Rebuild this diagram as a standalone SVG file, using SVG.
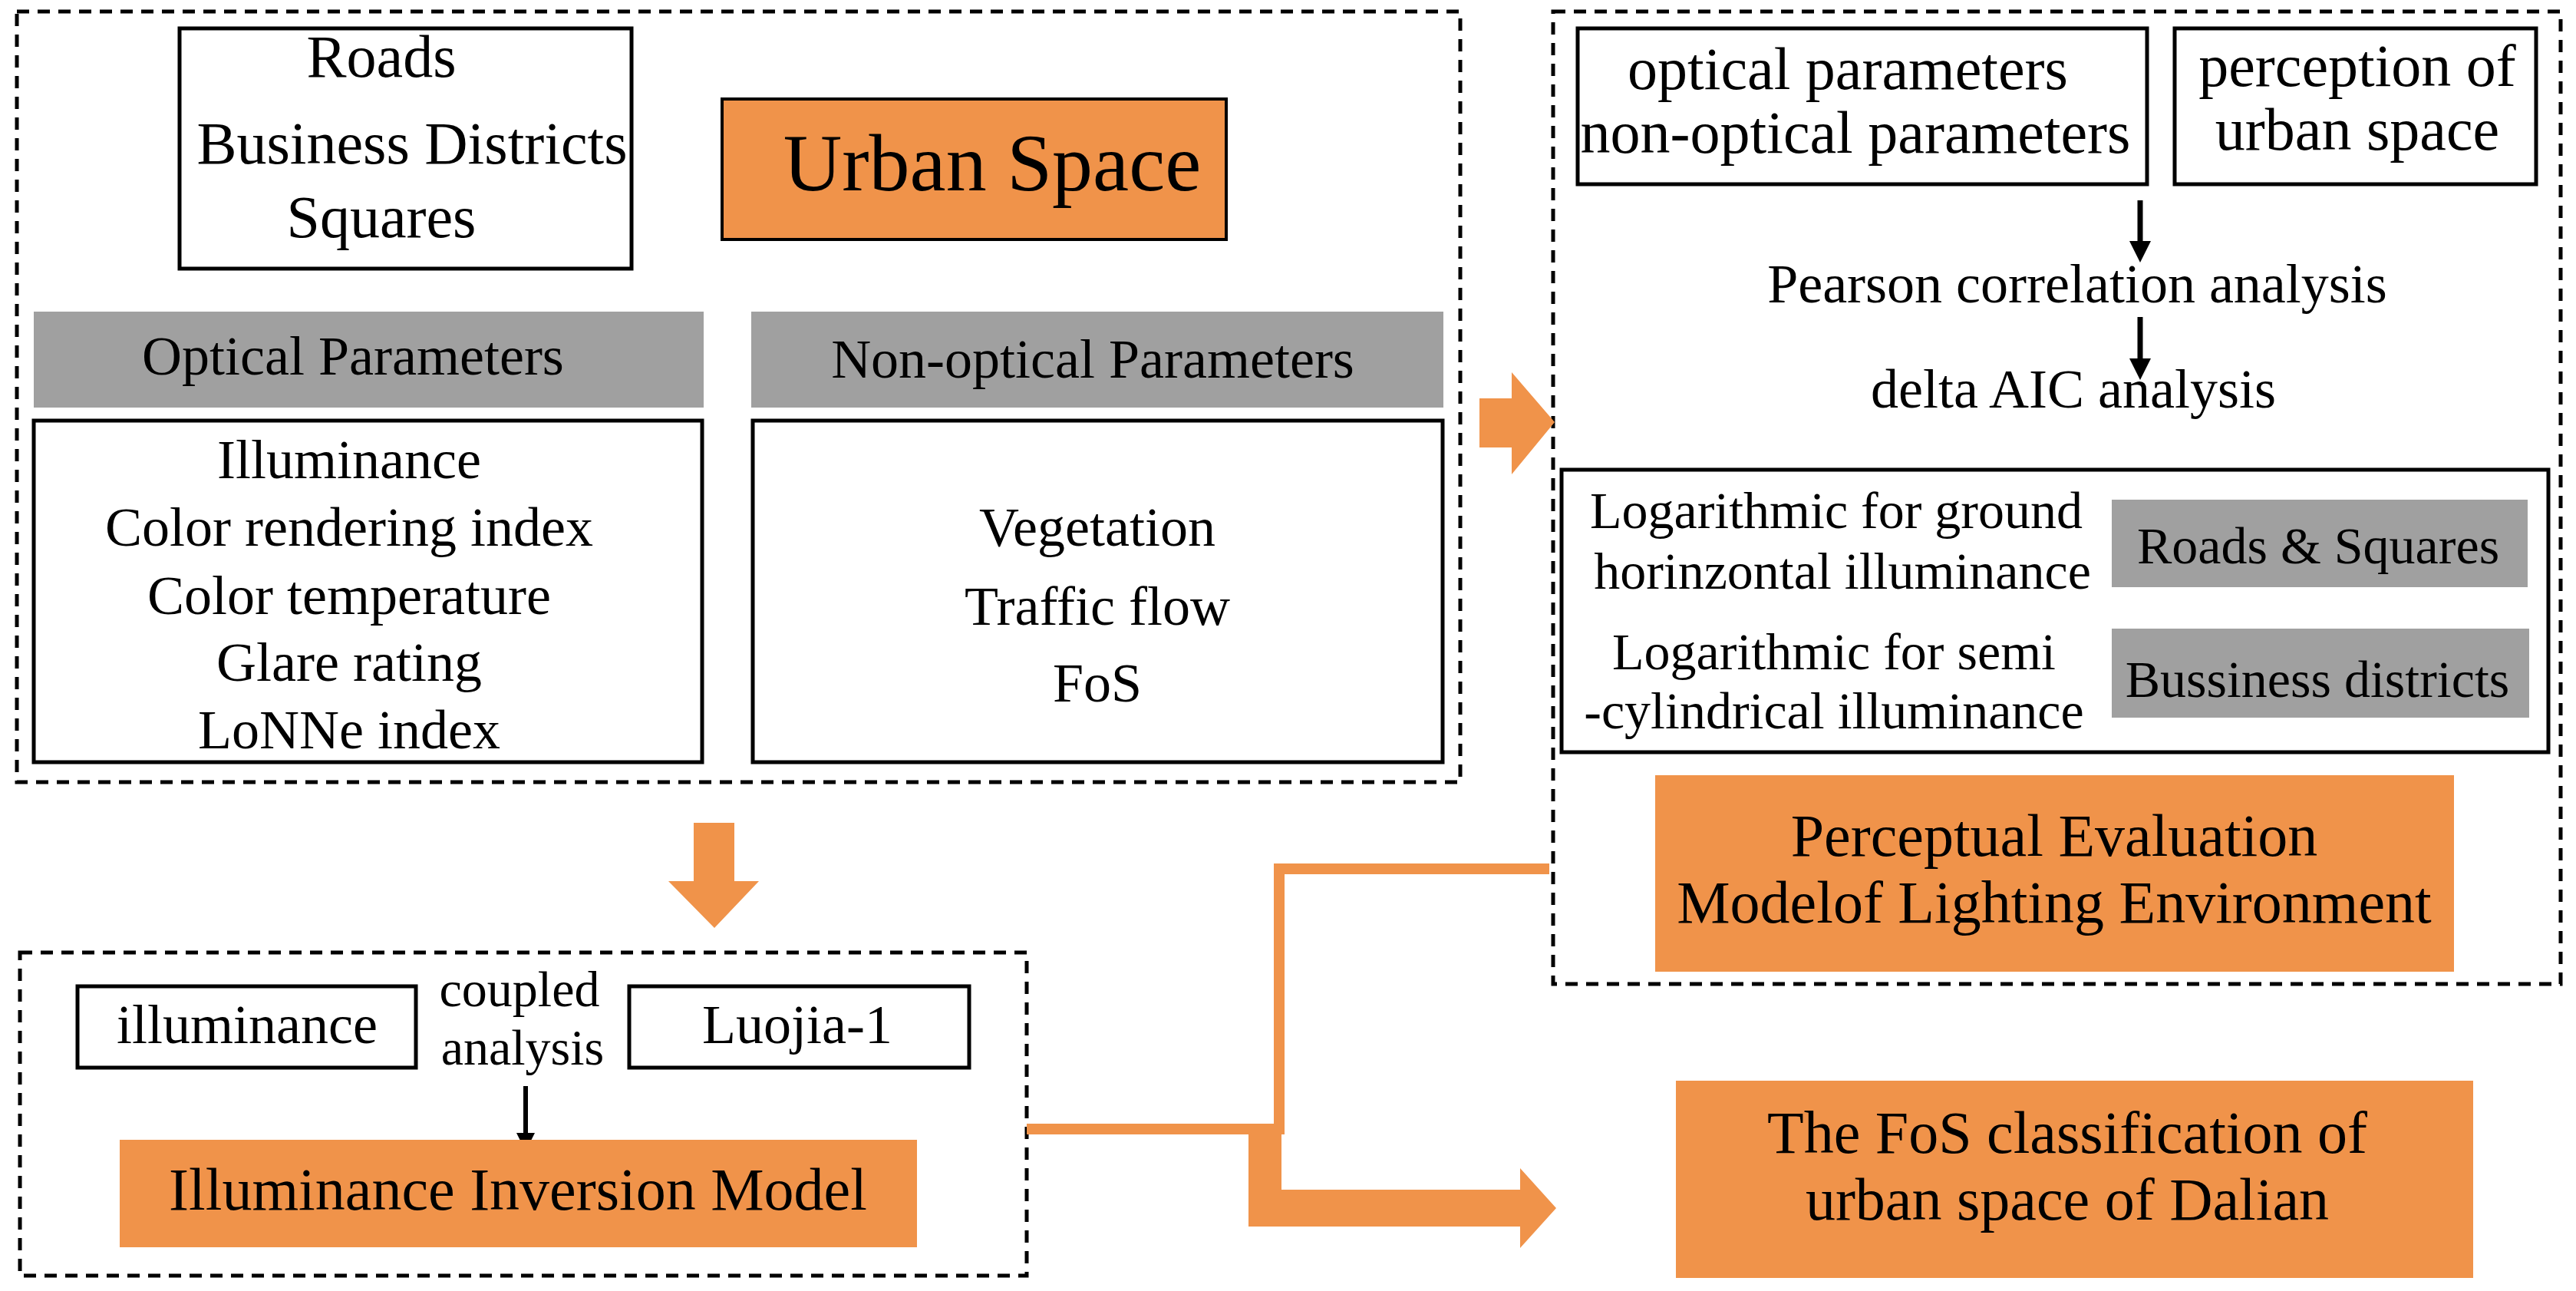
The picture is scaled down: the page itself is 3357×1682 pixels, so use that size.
<svg xmlns="http://www.w3.org/2000/svg" width="3357" height="1682" viewBox="0 0 3357 1682">
<style>
text{font-family:"Liberation Serif","Times New Roman",serif;fill:#000;text-anchor:middle}
.dash{fill:none;stroke:#000;stroke-width:5;stroke-dasharray:16 11}
.box{fill:#fff;stroke:#000;stroke-width:5}
.org{fill:#F0934A}
.gray{fill:#A0A0A0}
.t78{font-size:78px}.t72{font-size:72px}.t68{font-size:68px}.t66{font-size:66px}
</style>
<defs>
<marker id="ah" markerWidth="4" markerHeight="4" refX="2" refY="2" orient="auto" markerUnits="strokeWidth"><path d="M0,0L4,2L0,4z" fill="#000"/></marker>
</defs>
<rect width="3357" height="1682" fill="#fff"/>
<g id="frame-top-left"><rect class="dash" x="22" y="15" width="1881" height="1004"/></g>
<g id="frame-right"><rect class="dash" x="2024" y="15" width="1313" height="1267"/></g>
<g id="frame-bottom-left"><rect class="dash" x="26" y="1241" width="1312" height="421"/></g>
<g id="connectors">
<path class="org" d="M904,1072H957V1148H989L931,1209L871,1148H904Z"/>
<path class="org" d="M1928,519H1970V485L2026,550L1970,618V583H1928Z"/>
<path fill="none" stroke="#F0934A" stroke-width="14" d="M1338,1471H1667V1132H2019"/>
<path class="org" d="M1627,1478H1670V1550H1981V1522L2028,1574L1981,1626V1598H1627Z"/>
<line x1="2789" y1="261" x2="2789" y2="328" stroke="#000" stroke-width="7" marker-end="url(#ah)"/>
<line x1="2789" y1="413" x2="2789" y2="481" stroke="#000" stroke-width="7" marker-end="url(#ah)"/>
<line x1="685" y1="1415" x2="685" y2="1488" stroke="#000" stroke-width="6" marker-end="url(#ah)"/>
</g>
<g id="types"><rect class="box" x="234" y="37" width="589" height="313"/>
<text class="t78" x="497" y="100">Roads</text><text class="t78" x="537" y="213">Business Districts</text><text class="t78" x="497" y="309">Squares</text></g>
<g id="urban-space"><rect class="org" x="941" y="129" width="657" height="183" stroke="#000" stroke-width="4"/><text x="1293" y="248" font-size="106">Urban Space</text></g>
<g id="optical-head"><rect class="gray" x="44" y="406" width="873" height="125"/><text class="t72" x="460" y="488">Optical Parameters</text></g>
<g id="nonoptical-head"><rect class="gray" x="979" y="406" width="902" height="125"/><text class="t72" x="1424" y="492">Non-optical Parameters</text></g>
<g id="optical-list"><rect class="box" x="44" y="548" width="871" height="445"/>
<text class="t72" x="455" y="623">Illuminance</text><text class="t72" x="455" y="711">Color rendering index</text><text class="t72" x="455" y="800">Color temperature</text><text class="t72" x="455" y="887">Glare rating</text><text class="t72" x="455" y="975">LoNNe index</text></g>
<g id="nonoptical-list"><rect class="box" x="981" y="548" width="899" height="445"/>
<text class="t72" x="1430" y="711">Vegetation</text><text class="t72" x="1430" y="814">Traffic flow</text><text class="t72" x="1430" y="914">FoS</text></g>
<g id="params"><rect class="box" x="2056" y="37" width="742" height="203"/><text class="t78" x="2408" y="116">optical parameters</text><text class="t78" x="2418" y="199">non-optical parameters</text></g>
<g id="perception"><rect class="box" x="2834" y="37" width="471" height="203"/><text class="t78" x="3072" y="112">perception of</text><text class="t78" x="3072" y="195">urban space</text></g>
<g id="pearson"><text class="t72" x="2707" y="394">Pearson correlation analysis</text></g>
<g id="aic"><text class="t72" x="2702" y="531">delta AIC analysis</text></g>
<g id="log-models"><rect class="box" x="2035" y="612" width="1286" height="368"/>
<text class="t68" x="2393" y="688">Logarithmic for ground</text><text class="t68" x="2401" y="767">horinzontal illuminance</text>
<text class="t68" x="2390" y="872">Logarithmic for semi</text><text class="t68" x="2390" y="949">-cylindrical illuminance</text></g>
<g id="roads-squares"><rect class="gray" x="2752" y="651" width="542" height="114"/><text class="t68" x="3021" y="734">Roads &amp; Squares</text></g>
<g id="business"><rect class="gray" x="2752" y="819" width="544" height="116"/><text class="t68" x="3020" y="908">Bussiness districts</text></g>
<g id="perceptual-model"><rect class="org" x="2157" y="1010" width="1041" height="256"/><text class="t78" x="2677" y="1115">Perceptual Evaluation</text><text class="t78" x="2677" y="1202">Modelof Lighting Environment</text></g>
<g id="illuminance"><rect class="box" x="101" y="1285" width="441" height="106"/><text class="t72" x="322" y="1359">illuminance</text></g>
<g id="luojia"><rect class="box" x="820" y="1285" width="443" height="106"/><text class="t72" x="1039" y="1359">Luojia-1</text></g>
<g id="coupled"><text class="t66" x="677" y="1311">coupled</text><text class="t66" x="681" y="1387">analysis</text></g>
<g id="inversion-model"><rect class="org" x="156" y="1485" width="1039" height="140"/><text class="t78" x="675" y="1576">Illuminance Inversion Model</text></g>
<g id="fos-class"><rect class="org" x="2184" y="1408" width="1039" height="257"/><text class="t78" x="2694" y="1502">The FoS classification of</text><text class="t78" x="2694" y="1589">urban space of Dalian</text></g>
</svg>
